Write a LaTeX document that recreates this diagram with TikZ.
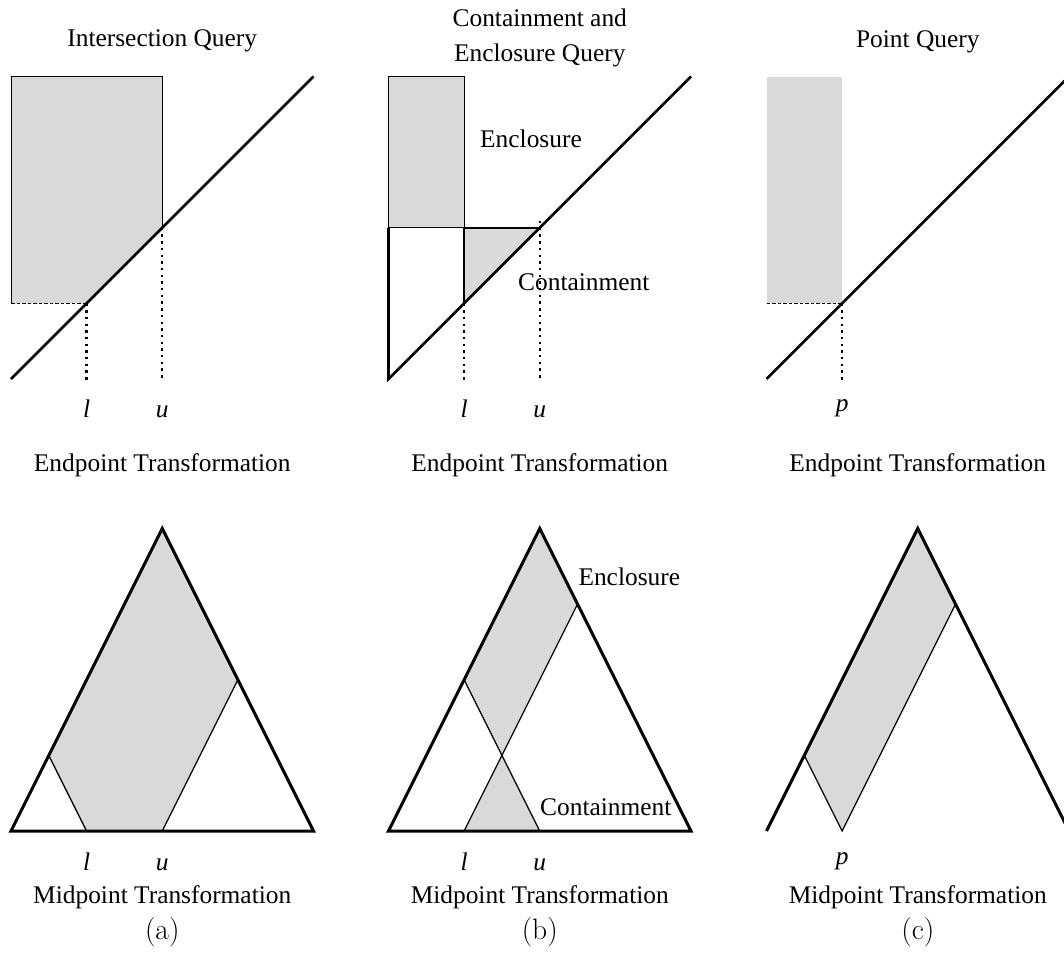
\documentclass[tikz,border=0pt]{standalone}
\usepackage{fontspec}
\setmainfont{Liberation Serif}
\definecolor{qgray}{RGB}{217,217,217}
\begin{document}
\begin{tikzpicture}[x=1pt,y=-1pt,
  txt/.style={font=\fontsize{25.4}{30}\selectfont, inner sep=0pt, anchor=base},
  lbl/.style={font=\fontsize{25.4}{30}\selectfont\itshape, inner sep=0pt, anchor=base},
  capt/.style={font=\fontfamily{lmr}\fontsize{29.5}{34}\selectfont, inner sep=0pt, anchor=base},
  shade/.style={fill=qgray, draw=none},
  diagln/.style={line width=2.7pt},
  triln/.style={line width=3pt},
  rectln/.style={line width=1pt},
  midln/.style={line width=1.8pt},
  innerln/.style={line width=1.3pt},
  dotln/.style={line width=2.4pt, dash pattern=on 2.4pt off 4.3pt},
  dashln/.style={line width=0.9pt, dash pattern=on 3.5pt off 2pt}]
\useasboundingbox (0,0) rectangle (1064,953);

% ---------- column (a) ----------
\begin{scope}[xshift=11pt]
  \fill[shade] (0,76.5) -- (151.25,76.5) -- (151.25,227.75) -- (75.6,303.4) -- (0,303.4) -- cycle;
  \draw[rectln] (0,303.4) -- (0,76.5) -- (151.25,76.5) -- (151.25,227.75);
  \draw[dashln] (0,303.4) -- (75.6,303.4);
  \draw[dotln] (75.6,303.4) -- (75.6,380);
  \draw[dotln] (151.25,227.75) -- (151.25,380);
  \draw[diagln] (0,379) -- (302.5,76.5);
  \node[lbl] (al) at (75.6,417) {l};
  \node[lbl] (au) at (151.25,417) {u};
  % bottom
  \fill[shade] (75.6,831) -- (151.25,831) -- (226.875,679.75) -- (151.25,528.5) -- (37.8,755.4) -- cycle;
  \draw[innerln] (37.8,755.4) -- (75.6,831);
  \draw[innerln] (151.25,831) -- (226.875,679.75);
  \draw[triln] (0,831) -- (151.25,528.5) -- (302.5,831) -- cycle;
  \node[lbl] (bl) at (75.6,870) {l};
  \node[lbl] (bu) at (151.25,870) {u};
\end{scope}

% ---------- column (b) ----------
\begin{scope}[xshift=388.5pt]
  \fill[shade] (0,76.5) rectangle (75.6,227.75);
  \fill[shade] (75.6,227.75) -- (151.25,227.75) -- (75.6,303.4) -- cycle;
  \draw[rectln] (0,227.75) -- (0,76.5) -- (75.6,76.5) -- (75.6,227.75);
  \draw[rectln] (0,227.75) -- (75.6,227.75);
  \draw[midln] (75.6,303.4) -- (75.6,227.75) -- (151.25,227.75);
  \draw[dotln] (75.6,303.4) -- (75.6,380);
  \draw[dotln] (151.25,221) -- (151.25,380);
  \draw[diagln] (0,227.75) -- (0,379) -- (302.5,76.5);
  \node[txt, anchor=base west] (encl) at (91.5,147) {Enclosure};
  \node[txt, anchor=base west] (cont) at (129.5,290) {Containment};
  \node[lbl] (cl) at (75.6,417) {l};
  \node[lbl] (cu) at (151.25,417) {u};
  % bottom
  \fill[shade] (75.6,831) -- (151.25,831) -- (113.425,755.35) -- cycle;
  \fill[shade] (75.625,679.75) -- (151.25,528.5) -- (189.05,604.1) -- (113.425,755.35) -- cycle;
  \draw[innerln] (75.625,679.75) -- (151.25,831);
  \draw[innerln] (75.6,831) -- (189.05,604.1);
  \draw[triln] (0,831) -- (151.25,528.5) -- (302.5,831) -- cycle;
  \node[txt, anchor=base west] (encl2) at (189.8,585) {Enclosure};
  \node[txt, anchor=base west] (cont2) at (151.5,815) {Containment};
  \node[lbl] (dl) at (75.6,870) {l};
  \node[lbl] (du) at (151.25,870) {u};
\end{scope}

% ---------- column (c) ----------
\begin{scope}[xshift=766.5pt]
  \fill[shade] (0,76.5) rectangle (75.6,303.4);
  \draw[dashln] (0,303.4) -- (75.6,303.4);
  \draw[dotln] (75.6,303.4) -- (75.6,380);
  \draw[diagln] (0,379) -- (302.5,76.5);
  \node[lbl] (ep) at (75.6,411) {p};
  % bottom
  \fill[shade] (75.6,831) -- (189.05,604.1) -- (151.25,528.5) -- (37.8,755.4) -- cycle;
  \draw[innerln] (37.8,755.4) -- (75.6,831) -- (189.05,604.1);
  \draw[triln] (0,831) -- (151.25,528.5) -- (302.5,831);
  \node[lbl] (fp) at (75.6,864) {p};
\end{scope}

% ---------- titles and captions ----------
\node[txt] (t1) at (162.25,46) {Intersection Query};
\node[txt] (t2a) at (539.75,27) {Containment and};
\node[txt] (t2b) at (539.75,61) {Enclosure Query};
\node[txt] (t3) at (917.75,47) {Point Query};

\node[txt] (e1) at (162.25,471) {Endpoint Transformation};
\node[txt] (e2) at (539.75,471) {Endpoint Transformation};
\node[txt] (e3) at (917.75,471) {Endpoint Transformation};

\node[txt] (m1) at (162.25,903) {Midpoint Transformation};
\node[txt] (m2) at (539.75,903) {Midpoint Transformation};
\node[txt] (m3) at (917.75,903) {Midpoint Transformation};

\node[capt] (ca) at (162.25,939.5) {(a)};
\node[capt] (cb) at (539.75,939.5) {(b)};
\node[capt] (cc) at (917.75,939.5) {(c)};
\end{tikzpicture}
\end{document}
